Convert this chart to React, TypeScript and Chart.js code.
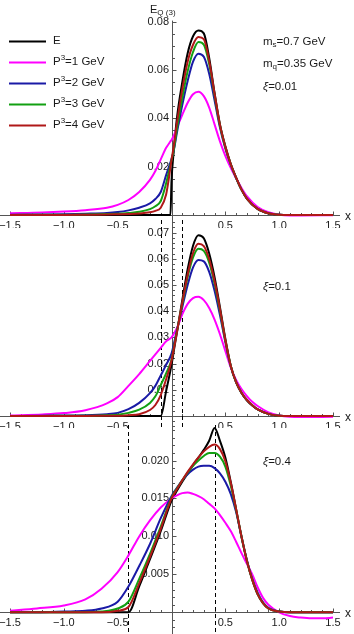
import React, { useEffect, useRef } from "react";
import { Chart, registerables } from "chart.js";

Chart.register(...registerables);

const FONT = '"Liberation Sans", Arial, Helvetica, sans-serif';
const TEXT = "#1a1a1a";
const AXIS = "#555555";
const NOTE_SIZE = 11.5;

// ---- series meta ----
const seriesNames = ["E", "P3=1 GeV", "P3=2 GeV", "P3=3 GeV", "P3=4 GeV"];
const seriesColors = ["#000000", "#ff00ff", "#1a1aa6", "#12a012", "#b01818"];
const drawOrder = [5, 4, 3, 2, 1];

// ---- axis ticks ----
const xTickLabels = ["−1.5", "−1.0", "−0.5", "0.5", "1.0", "1.5"];
const xTickValues = [-1.5, -1.0, -0.5, 0.5, 1.0, 1.5];

const y1TickValues = [0.02, 0.04, 0.06, 0.08];
const y1TickLabels = ["0.02", "0.04", "0.06", "0.08"];
const y2TickValues = [0.01, 0.02, 0.03, 0.04, 0.05, 0.06, 0.07];
const y2TickLabels = ["0.01", "0.02", "0.03", "0.04", "0.05", "0.06", "0.07"];
const y3TickValues = [0.005, 0.01, 0.015, 0.02];
const y3TickLabels = ["0.005", "0.010", "0.015", "0.020"];

// ---- panel 1 : xi = 0.01 ----
const x1 = [-1.5, -1.2, -1.0, -0.8, -0.6, -0.5, -0.4, -0.3, -0.2, -0.15, -0.1, -0.05, -0.02, -0.01, 0, 0.02, 0.05, 0.1, 0.15, 0.2, 0.25, 0.3, 0.35, 0.4, 0.45, 0.5, 0.55, 0.6, 0.65, 0.7, 0.8, 0.9, 1.0, 1.1, 1.2, 1.5];
const p1E = [0, 0, 0, 0, 0, 0, 0, 0, 0, 0, 0, 0, 0, 0, 0.014, 0.026, 0.040, 0.055, 0.067, 0.074, 0.0764, 0.0752, 0.065, 0.0505, 0.0375, 0.0285, 0.0212, 0.0155, 0.0105, 0.0068, 0.0025, 0.0007, 0.0001, 0, 0, 0];
const p1P1 = [0.0007, 0.001, 0.0014, 0.002, 0.003, 0.0042, 0.0062, 0.0095, 0.0145, 0.0182, 0.023, 0.0278, 0.0298, 0.0305, 0.031, 0.0328, 0.0362, 0.0415, 0.0465, 0.05, 0.051, 0.0492, 0.0445, 0.0375, 0.0305, 0.0245, 0.0195, 0.0152, 0.0112, 0.0078, 0.0033, 0.0011, 0.0001, -0.0002, -0.0002, -0.0001];
const p1P2 = [0.0001, 0.0002, 0.0003, 0.0005, 0.0008, 0.0012, 0.0019, 0.003, 0.0048, 0.0066, 0.0095, 0.0165, 0.0205, 0.0218, 0.0232, 0.0265, 0.034, 0.0455, 0.0555, 0.0635, 0.0668, 0.0655, 0.0585, 0.0475, 0.0362, 0.0275, 0.0208, 0.0153, 0.0105, 0.0068, 0.0025, 0.0007, 0.0001, 0, 0, 0];
const p1P3 = [0, 0.0001, 0.0001, 0.0002, 0.0004, 0.0005, 0.0008, 0.0013, 0.0024, 0.0036, 0.0058, 0.0131, 0.0188, 0.0207, 0.0226, 0.0268, 0.0355, 0.0485, 0.0595, 0.0675, 0.0716, 0.0705, 0.0625, 0.0495, 0.037, 0.028, 0.021, 0.0154, 0.0105, 0.0068, 0.0025, 0.0007, 0.0001, 0, 0, 0];
const p1P4 = [0, 0, 0, 0.0001, 0.0002, 0.0003, 0.0004, 0.0006, 0.0011, 0.0017, 0.003, 0.0085, 0.0165, 0.0198, 0.0228, 0.0282, 0.038, 0.052, 0.0635, 0.0705, 0.0737, 0.0728, 0.0638, 0.0502, 0.0373, 0.0283, 0.0211, 0.0155, 0.0105, 0.0068, 0.0025, 0.0007, 0.0001, 0, 0, 0];

// ---- panel 2 : xi = 0.1 ----
const x2 = [-1.5, -1.2, -1.0, -0.8, -0.6, -0.5, -0.4, -0.3, -0.2, -0.15, -0.1, -0.05, 0, 0.03, 0.06, 0.1, 0.15, 0.2, 0.25, 0.3, 0.35, 0.4, 0.45, 0.5, 0.55, 0.6, 0.65, 0.7, 0.75, 0.8, 0.9, 1.0, 1.1, 1.2, 1.5];
const p2E = [0, 0, 0, 0, 0, 0, 0, 0, 0, 0, 0, 0.0095, 0.0195, 0.027, 0.0342, 0.0442, 0.056, 0.065, 0.069, 0.0678, 0.062, 0.053, 0.0415, 0.0295, 0.0192, 0.0128, 0.0088, 0.006, 0.004, 0.0025, 0.0008, 0.0001, 0, 0, 0];
const p2P1 = [0.0002, 0.0006, 0.0011, 0.0022, 0.0048, 0.0072, 0.0115, 0.016, 0.021, 0.0235, 0.026, 0.0285, 0.03, 0.032, 0.0345, 0.0388, 0.0428, 0.045, 0.0455, 0.0442, 0.0412, 0.0368, 0.0312, 0.0248, 0.0185, 0.0138, 0.0103, 0.0076, 0.0054, 0.0038, 0.0014, 0.0002, -0.0003, -0.0004, -0.0003];
const p2P2 = [0, 0.0001, 0.0002, 0.0003, 0.0007, 0.0012, 0.0026, 0.005, 0.0087, 0.0115, 0.0155, 0.0195, 0.0238, 0.029, 0.0345, 0.0415, 0.05, 0.0567, 0.0595, 0.059, 0.055, 0.0478, 0.0385, 0.0282, 0.019, 0.013, 0.0089, 0.0061, 0.0041, 0.0025, 0.0008, 0.0001, 0, 0, 0];
const p2P3 = [0, 0, 0.0001, 0.0001, 0.0003, 0.0005, 0.0012, 0.0024, 0.005, 0.0075, 0.0118, 0.0163, 0.0215, 0.028, 0.0344, 0.0428, 0.053, 0.0605, 0.0638, 0.063, 0.0585, 0.0505, 0.0402, 0.0288, 0.0192, 0.0129, 0.0089, 0.0061, 0.0041, 0.0025, 0.0008, 0.0001, 0, 0, 0];
const p2P4 = [0, 0, 0, 0, 0.0001, 0.0001, 0.0003, 0.0007, 0.0023, 0.0042, 0.008, 0.014, 0.0212, 0.0275, 0.0342, 0.0432, 0.054, 0.0622, 0.0657, 0.0648, 0.0598, 0.0515, 0.0408, 0.029, 0.0192, 0.0129, 0.0089, 0.0061, 0.0041, 0.0025, 0.0008, 0.0001, 0, 0, 0];

// ---- panel 3 : xi = 0.4 ----
const x3 = [-1.5, -1.25, -1.0, -0.8, -0.65, -0.5, -0.4, -0.3, -0.2, -0.1, 0, 0.05, 0.1, 0.15, 0.2, 0.25, 0.3, 0.35, 0.4, 0.45, 0.5, 0.55, 0.6, 0.65, 0.7, 0.75, 0.8, 0.85, 0.9, 1.0, 1.1, 1.2, 1.3, 1.4, 1.5];
const p3E = [0, 0, 0, 0, 0, 0, 0, 0.0034, 0.007, 0.0107, 0.0147, 0.016, 0.0172, 0.0183, 0.0194, 0.0204, 0.0214, 0.0226, 0.0243, 0.0226, 0.0204, 0.0172, 0.0136, 0.0099, 0.0068, 0.0043, 0.0024, 0.0012, 0.0005, 0.0001, 0, 0, 0, 0, 0];
const p3P1 = [0.0002, 0.0005, 0.0009, 0.0017, 0.0031, 0.0053, 0.0075, 0.01, 0.0121, 0.0138, 0.015, 0.0154, 0.0157, 0.0158, 0.0156, 0.0153, 0.0149, 0.0143, 0.0137, 0.0128, 0.0118, 0.0107, 0.0093, 0.0078, 0.0064, 0.005, 0.0033, 0.0019, 0.001, 0, -0.0005, -0.0007, -0.0008, -0.0008, -0.0007];
const p3P2 = [0, 0, 0.0001, 0.0002, 0.0005, 0.0014, 0.0034, 0.0061, 0.009, 0.0124, 0.0153, 0.0164, 0.0174, 0.0182, 0.0188, 0.0192, 0.0193, 0.0193, 0.019, 0.0183, 0.0172, 0.0156, 0.0132, 0.01, 0.0069, 0.0044, 0.0026, 0.0013, 0.0006, 0.0001, 0, 0, 0, 0, 0];
const p3P3 = [0, 0, 0, 0, 0.0001, 0.0005, 0.0014, 0.0044, 0.0077, 0.0113, 0.0151, 0.0163, 0.0174, 0.0184, 0.0193, 0.02, 0.0206, 0.021, 0.021, 0.0205, 0.0192, 0.0167, 0.0135, 0.01, 0.0068, 0.0043, 0.0024, 0.0012, 0.0005, 0.0001, 0, 0, 0, 0, 0];
const p3P4 = [0, 0, 0, 0, 0, 0.0002, 0.0007, 0.0038, 0.0073, 0.011, 0.015, 0.0162, 0.0174, 0.0185, 0.0195, 0.0204, 0.0212, 0.0218, 0.0221, 0.0215, 0.0199, 0.0171, 0.0136, 0.01, 0.0068, 0.0043, 0.0024, 0.0012, 0.0005, 0.0001, 0, 0, 0, 0, 0];

type Seg = { t: string; size?: number; dy?: number; italic?: boolean };

function drawRich(ctx: CanvasRenderingContext2D, segs: Seg[], x: number, y: number) {
  let cx = x;
  ctx.textAlign = "left";
  ctx.textBaseline = "middle";
  for (const s of segs) {
    ctx.font = `${s.italic ? "italic " : ""}${s.size ?? NOTE_SIZE}px ${FONT}`;
    ctx.fillText(s.t, cx, y + (s.dy ?? 0));
    cx += ctx.measureText(s.t).width;
  }
}

type PanelSpec = {
  top: number;
  height: number;
  padTop: number;
  yMin: number;
  yMax: number;
  xs: number[];
  series: number[][];
  yTicks: number[];
  yLabels: string[];
  yMinorStep: number;
  dashed: number[];
  notes: { segs: Seg[]; x: number; y: number }[];
  legend: boolean;
  yTitle: boolean;
};

const panels: PanelSpec[] = [
  {
    top: 0, height: 228, padTop: 20.6, yMin: -0.0054, yMax: 0.0805,
    xs: x1, series: [p1E, p1P1, p1P2, p1P3, p1P4],
    yTicks: y1TickValues, yLabels: y1TickLabels, yMinorStep: 0.005,
    dashed: [],
    notes: [
      { segs: [{ t: "m" }, { t: "s", size: 8, dy: 3 }, { t: "=0.7 GeV" }], x: 263, y: 42 },
      { segs: [{ t: "m" }, { t: "q", size: 8, dy: 3 }, { t: "=0.35 GeV" }], x: 263, y: 64 },
      { segs: [{ t: "ξ", italic: true }, { t: "=0.01" }], x: 263, y: 87 },
    ],
    legend: true, yTitle: true,
  },
  {
    top: 220, height: 208, padTop: 0, yMin: -0.00458, yMax: 0.0748,
    xs: x2, series: [p2E, p2P1, p2P2, p2P3, p2P4],
    yTicks: y2TickValues, yLabels: y2TickLabels, yMinorStep: 0.002,
    dashed: [-0.1, 0.1],
    notes: [{ segs: [{ t: "ξ", italic: true }, { t: "=0.1" }], x: 263, y: 67 }],
    legend: false, yTitle: false,
  },
  {
    top: 425, height: 209, padTop: 0, yMin: -0.00286, yMax: 0.02468,
    xs: x3, series: [p3E, p3P1, p3P2, p3P3, p3P4],
    yTicks: y3TickValues, yLabels: y3TickLabels, yMinorStep: 0.001,
    dashed: [-0.4, 0.4],
    notes: [{ segs: [{ t: "ξ", italic: true }, { t: "=0.4" }], x: 263, y: 37 }],
    legend: false, yTitle: false,
  },
];

const X_MIN = -1.593;
const X_MAX = 1.565;

const mmaPlugin = {
  id: "mma",
  beforeDatasetsDraw(chart: any, _args: any, opts: any) {
    const spec: PanelSpec = opts.spec;
    const { ctx, chartArea } = chart;
    const xs = chart.scales.x;
    const ys = chart.scales.y;
    const x0 = Math.round(xs.getPixelForValue(0)) + 0.5;
    const y0 = Math.round(ys.getPixelForValue(0)) + 0.5;
    ctx.save();
    ctx.strokeStyle = AXIS;
    ctx.lineWidth = 1;
    ctx.beginPath();
    ctx.moveTo(chartArea.left, y0);
    ctx.lineTo(chartArea.right, y0);
    ctx.moveTo(x0, chartArea.top);
    ctx.lineTo(x0, chartArea.bottom);
    ctx.stroke();

    // x ticks (minor every 0.1, major every 0.5)
    ctx.beginPath();
    for (let i = -15; i <= 15; i++) {
      if (i === 0) continue;
      const v = i / 10;
      const px = Math.round(xs.getPixelForValue(v)) + 0.5;
      const len = i % 5 === 0 ? 4 : 2.5;
      ctx.moveTo(px, y0);
      ctx.lineTo(px, y0 - len);
    }
    // y ticks
    const step = spec.yMinorStep;
    const nLo = Math.ceil(spec.yMin / step - 1e-6);
    const nHi = Math.floor(spec.yMax / step + 1e-6);
    for (let n = nLo; n <= nHi; n++) {
      if (n === 0) continue;
      const v = n * step;
      const major = spec.yTicks.some((t) => Math.abs(t - v) < step / 10);
      const py = Math.round(ys.getPixelForValue(v)) + 0.5;
      ctx.moveTo(x0, py);
      ctx.lineTo(x0 + (major ? 4 : 2.5), py);
    }
    ctx.stroke();

    // tick labels
    ctx.fillStyle = TEXT;
    ctx.font = `11px ${FONT}`;
    ctx.textAlign = "center";
    ctx.textBaseline = "middle";
    xTickValues.forEach((v, i) => {
      ctx.fillText(xTickLabels[i], xs.getPixelForValue(v), y0 + 10);
    });
    ctx.font = `12px ${FONT}`;
    ctx.fillText("x", 348, y0 + 1);
    ctx.font = `11px ${FONT}`;
    ctx.textAlign = "right";
    spec.yTicks.forEach((v, i) => {
      ctx.fillText(spec.yLabels[i], x0 - 3.5, ys.getPixelForValue(v));
    });

    // dashed lines
    if (spec.dashed.length) {
      ctx.strokeStyle = "#000";
      ctx.setLineDash([4, 3]);
      ctx.beginPath();
      spec.dashed.forEach((v) => {
        const px = Math.round(xs.getPixelForValue(v)) + 0.5;
        ctx.moveTo(px, chartArea.top);
        ctx.lineTo(px, chartArea.bottom);
      });
      ctx.stroke();
      ctx.setLineDash([]);
    }
    ctx.restore();
  },
  afterDatasetsDraw(chart: any, _args: any, opts: any) {
    const spec: PanelSpec = opts.spec;
    const { ctx } = chart;
    ctx.save();
    ctx.fillStyle = TEXT;
    spec.notes.forEach((n) => drawRich(ctx, n.segs, n.x, n.y));
    if (spec.yTitle) {
      drawRich(ctx, [{ t: "E", size: 11 }, { t: "Q (3)", size: 8, dy: 3 }], 150, 10);
    }
    if (spec.legend) {
      chart.data.datasets.forEach((ds: any, i: number) => {
        const y = 41 + i * 21;
        ctx.strokeStyle = ds.borderColor;
        ctx.lineWidth = 2;
        ctx.beginPath();
        ctx.moveTo(9, y + 0.5);
        ctx.lineTo(46, y + 0.5);
        ctx.stroke();
        ctx.fillStyle = TEXT;
        if (i === 0) {
          drawRich(ctx, [{ t: "E" }], 53, y);
        } else {
          const rest = String(ds.label).slice(2);
          drawRich(ctx, [{ t: "P" }, { t: "3", size: 8, dy: -4 }, { t: rest }], 53, y);
        }
      });
    }
    ctx.restore();
  },
};

function Panel({ spec }: { spec: PanelSpec }) {
  const ref = useRef<HTMLCanvasElement | null>(null);
  useEffect(() => {
    if (!ref.current) return;
    const chart = new Chart(ref.current, {
      type: "line",
      data: {
        datasets: spec.series.map((vals, si) => ({
          label: seriesNames[si],
          data: spec.xs.map((x, i) => ({ x, y: vals[i] })),
          borderColor: seriesColors[si],
          backgroundColor: seriesColors[si],
          borderWidth: 2,
          pointRadius: 0,
          fill: false,
          cubicInterpolationMode: "monotone" as const,
          order: drawOrder[si],
        })),
      },
      options: {
        responsive: false,
        animation: false,
        events: [],
        layout: { padding: { top: spec.padTop, left: 0, right: 14, bottom: 0 } },
        plugins: {
          legend: { display: false },
          tooltip: { enabled: false },
          title: { display: false },
          mma: { spec },
        } as any,
        scales: {
          x: { type: "linear", min: X_MIN, max: X_MAX, display: false },
          y: { type: "linear", min: spec.yMin, max: spec.yMax, display: false },
        },
      },
      plugins: [mmaPlugin as any],
    });
    return () => chart.destroy();
  }, [spec]);
  return (
    <canvas
      ref={ref}
      width={354}
      height={spec.height}
      style={{ position: "absolute", left: 0, top: spec.top, width: 354, height: spec.height, display: "block" }}
    />
  );
}

export default function App() {
  return (
    <div style={{ position: "absolute", left: 0, top: 0, width: 354, height: 634, background: "#ffffff", overflow: "hidden" }}>
      {panels.map((p, i) => (
        <Panel key={i} spec={p} />
      ))}
    </div>
  );
}
